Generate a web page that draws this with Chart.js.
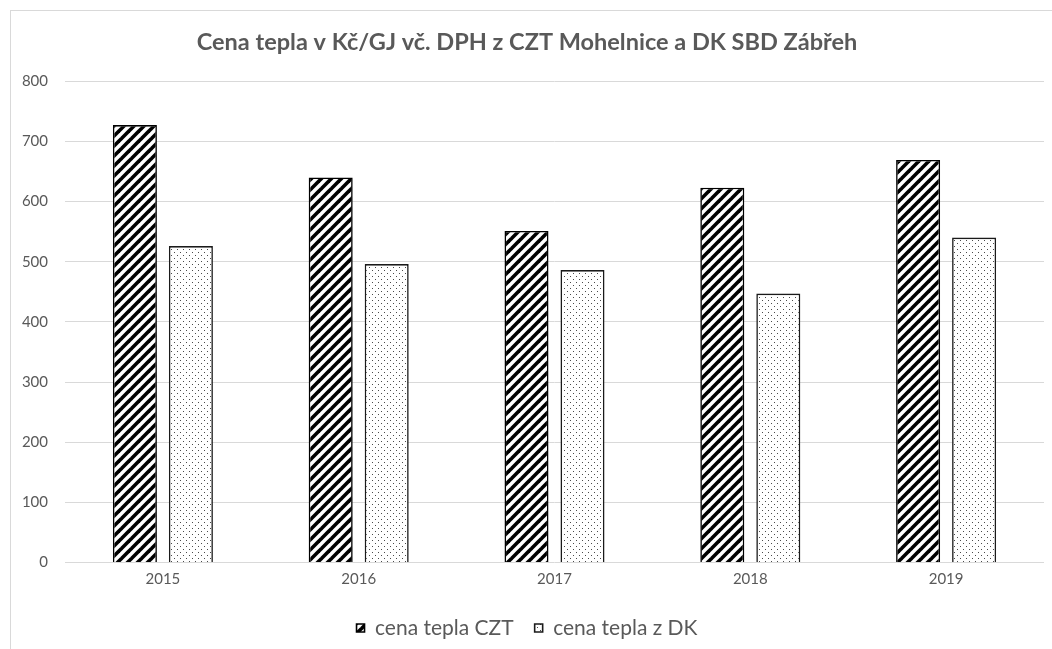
<!DOCTYPE html>
<html>
<head>
<meta charset="utf-8">
<script src="https://cdn.jsdelivr.net/npm/chart.js@4.4.3/dist/chart.umd.min.js"></script>
<style>
    html, body { margin: 0; padding: 0; background: #fff; }
    #wrap { position: relative; width: 1052px; height: 649px; overflow: hidden; }
    #frame { position: absolute; left: 10px; top: 10px; width: 1100px; height: 700px;
             border-top: 1px solid #d9d9d9; border-left: 1px solid #d9d9d9; }
    #chart { position: absolute; left: 0; top: 0; }
</style>
</head>
<body>
<div id="wrap">
    <div id="frame"></div>
    <canvas id="chart" width="1052" height="649"></canvas>
</div>
<script>
const years = ['2015', '2016', '2017', '2018', '2019'];
const cenaCZT = [727, 640, 551, 623, 669];
const cenaDK = [526, 496, 486, 447, 540];
const seriesNames = ['cena tepla CZT', 'cena tepla z DK'];

const textColor = '#595959';
const fontName = 'Lato';

// wide upward diagonal, like the Excel pattern fill
function stripePattern() {
    const size = 10;
    const c = document.createElement('canvas');
    c.width = size;
    c.height = size;
    const g = c.getContext('2d');
    g.fillStyle = '#fff';
    g.fillRect(0, 0, size, size);
    g.strokeStyle = '#000';
    g.lineWidth = 3.6;
    [[0, size, size, 0], [-size / 2, size / 2, size / 2, -size / 2], [size / 2, size * 1.5, size * 1.5, size / 2]]
        .forEach(([x1, y1, x2, y2]) => {
            g.beginPath();
            g.moveTo(x1, y1);
            g.lineTo(x2, y2);
            g.stroke();
        });
    return g.createPattern(c, 'repeat');
}

// sparse dots
function dotPattern() {
    const size = 6;
    const c = document.createElement('canvas');
    c.width = size;
    c.height = size;
    const g = c.getContext('2d');
    g.fillStyle = '#fff';
    g.fillRect(0, 0, size, size);
    g.fillStyle = '#4a4a4a';
    g.fillRect(0, 0, 1, 1);
    g.fillRect(3, 3, 1, 1);
    return g.createPattern(c, 'repeat');
}

const ctx = document.getElementById('chart').getContext('2d');

new Chart(ctx, {
    type: 'bar',
    data: {
        labels: years,
        datasets: [
            {
                label: seriesNames[0],
                data: cenaCZT,
                backgroundColor: stripePattern(),
                borderColor: '#000',
                borderWidth: 1.6,
                barPercentage: 0.786,
                categoryPercentage: 0.572
            },
            {
                label: seriesNames[1],
                data: cenaDK,
                backgroundColor: dotPattern(),
                borderColor: '#1a1a1a',
                borderWidth: 1.6,
                barPercentage: 0.786,
                categoryPercentage: 0.572
            }
        ]
    },
    options: {
        responsive: false,
        animation: false,
        layout: {
            padding: { top: 10, left: 10, right: 8, bottom: 0.5 }
        },
        plugins: {
            title: {
                display: true,
                text: 'Cena tepla v Kč/GJ vč. DPH z CZT Mohelnice a DK SBD Zábřeh',
                color: textColor,
                font: { family: fontName, size: 23.5, weight: 'bold' },
                padding: { top: 18, bottom: 25 }
            },
            legend: {
                position: 'bottom',
                labels: {
                    color: textColor,
                    font: { family: fontName, size: 21 },
                    boxWidth: 8,
                    boxHeight: 8,
                    padding: 21
                }
            },
            tooltip: { enabled: false }
        },
        scales: {
            x: {
                grid: { display: false, drawTicks: false },
                border: { display: false },
                ticks: {
                    color: textColor,
                    font: { family: fontName, size: 15 },
                    padding: 8
                }
            },
            y: {
                min: 0,
                max: 800,
                afterFit: scale => { scale.width = 55; },
                grid: { color: '#d9d9d9', drawTicks: false },
                border: { display: false },
                ticks: {
                    stepSize: 100,
                    color: textColor,
                    font: { family: fontName, size: 15 },
                    padding: 17
                }
            }
        }
    }
});
</script>
</body>
</html>
